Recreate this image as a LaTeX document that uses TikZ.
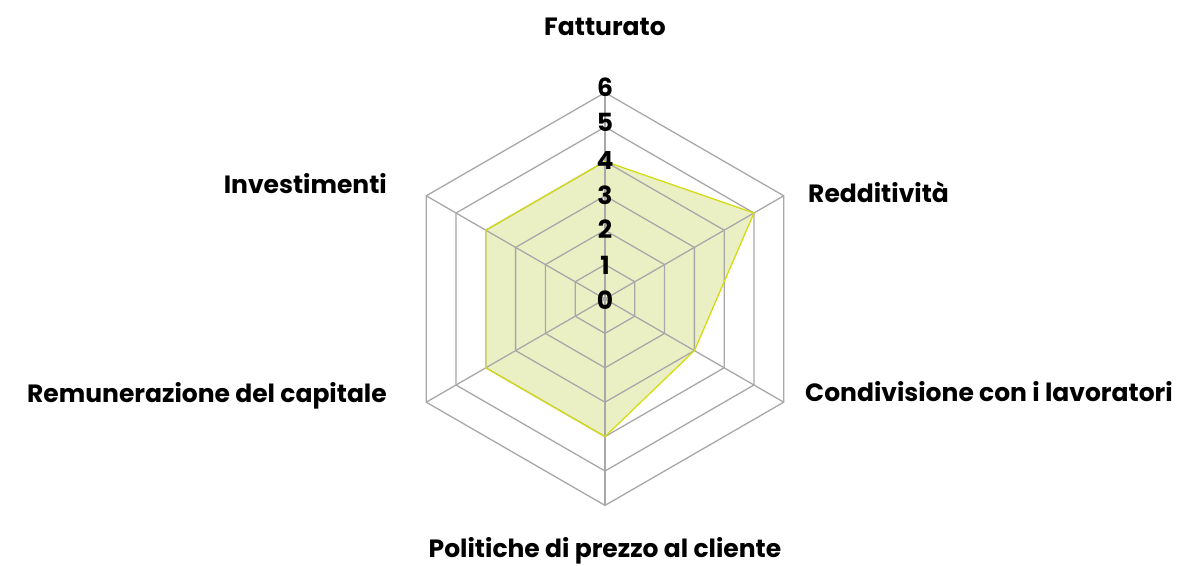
\documentclass[tikz,border=0pt]{standalone}
\usepackage{fontspec}
\setmainfont{Poppins}
\definecolor{gridgray}{HTML}{A8A8A8}
\definecolor{areafill}{HTML}{EAF0C4}
\definecolor{arealine}{HTML}{D4DC14}
\tikzset{
  gridline/.style={draw=gridgray, line width=1.3pt},
  axlabel/.style={font=\fontsize{25}{28}\selectfont\bfseries, inner sep=0pt},
  ticklabel/.style={font=\fontsize{25}{28}\selectfont\bfseries, inner sep=0pt},
}
\begin{document}
\begin{tikzpicture}[x=1pt,y=1pt]
\useasboundingbox (-605,-266) rectangle (578,299);
\def\u{34.4}
% data area
\fill[areafill] (90:4*\u) -- (30:5*\u) -- (-30:3*\u) -- (-90:4*\u) -- (210:4*\u) -- (150:4*\u) -- cycle;
% grid
\foreach \k in {1,...,6}{
  \draw[gridline] (90:\k*\u) -- (30:\k*\u) -- (-30:\k*\u) -- (-90:\k*\u) -- (210:\k*\u) -- (150:\k*\u) -- cycle;
}
\foreach \a in {90,30,-30,-90,210,150}{
  \draw[gridline] (0,0) -- (\a:6*\u);
}
\draw[arealine, line width=1.3pt, line join=miter] (90:4*\u) -- (30:5*\u) -- (-30:3*\u) -- (-90:4*\u) -- (210:4*\u) -- (150:4*\u) -- cycle;
% ticks
\foreach \k/\y in {0/-1,1/34,2/69.7,3/104,4/138.3,5/176.3,6/211.7}{
  \node[ticklabel] (t\k) at (0,\y) {\k};
}
% axis labels
\node[axlabel, anchor=base] (fat) at (0,263) {Fatturato};
\node[axlabel, anchor=base west] (red) at (203,96) {Redditività};
\node[axlabel, anchor=base west] (con) at (200,-102) {Condivisione con i lavoratori};
\node[axlabel, anchor=base] (pol) at (0,-258) {Politiche di prezzo al cliente};
\node[axlabel, anchor=base east] (rem) at (-218,-103) {Remunerazione del capitale};
\node[axlabel, anchor=base east] (inv) at (-218,106) {Investimenti};
\end{tikzpicture}
\end{document}
